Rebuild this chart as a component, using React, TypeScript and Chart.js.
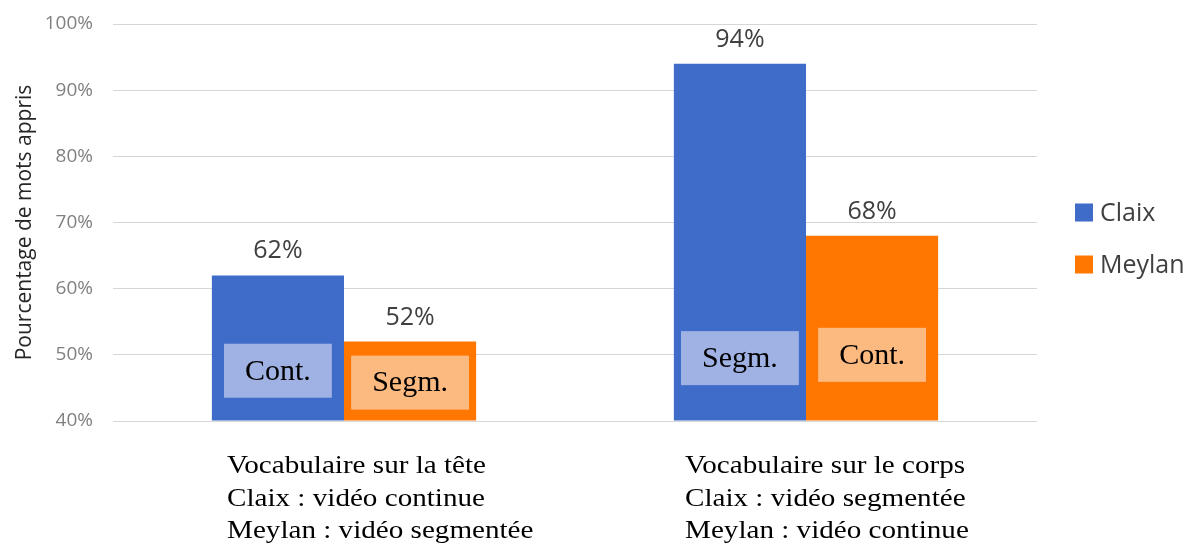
import { useEffect, useRef } from 'react';
import { Chart, registerables } from 'chart.js';

Chart.register(...registerables);

// ---- data ----
const categoryLines: string[][] = [
  ['Vocabulaire sur la tête', 'Claix : vidéo continue', 'Meylan : vidéo segmentée'],
  ['Vocabulaire sur le corps', 'Claix : vidéo segmentée', 'Meylan : vidéo continue'],
];
const seriesNames = ['Claix', 'Meylan'];
const claixValues = [62, 94];
const meylanValues = [52, 68];
const claixInsetLabels = ['Cont.', 'Segm.'];
const meylanInsetLabels = ['Segm.', 'Cont.'];
const yMin = 40;
const yMax = 100;
const yStep = 10;
const yTitle = 'Pourcentage de mots appris';

// ---- styling / layout ----
const seriesColors = ['#3F6BC9', '#FF7700'];
const insetFills = ['#9FB2E3', '#FDBA80'];
// vertical centre of each inset box, in axis units (per series, per category)
const insetCenters = [
  [47.6, 49.5],
  [45.8, 50.0],
];
const catLabelShift = [-117, -121];
const sansFont = '"Open Sans", "Liberation Sans", sans-serif';
const serifFont = '"Liberation Serif", "Times New Roman", serif';

const overlayPlugin = {
  id: 'overlayPlugin',
  afterDatasetsDraw(chart: any) {
    const ctx: CanvasRenderingContext2D = chart.ctx;
    const yScale = chart.scales.y;
    const xScale = chart.scales.x;
    const insetLabels = [claixInsetLabels, meylanInsetLabels];

    chart.data.datasets.forEach((ds: any, di: number) => {
      const meta = chart.getDatasetMeta(di);
      meta.data.forEach((bar: any, i: number) => {
        const { x, y: top } = bar.getProps(['x', 'y'], true);
        ctx.save();
        // value label
        ctx.font = `25px ${sansFont}`;
        ctx.fillStyle = '#404040';
        ctx.textAlign = 'center';
        ctx.textBaseline = 'alphabetic';
        ctx.fillText(`${ds.data[i]}%`, x, top - 17);
        // inset box
        const text = insetLabels[di][i];
        ctx.font = `30px ${serifFont}`;
        const tw = ctx.measureText(text).width;
        const bw = tw + 42;
        const bh = 54;
        const cy = yScale.getPixelForValue(insetCenters[di][i]);
        ctx.fillStyle = insetFills[di];
        ctx.fillRect(x - bw / 2, cy - bh / 2, bw, bh);
        ctx.fillStyle = '#000000';
        ctx.textBaseline = 'middle';
        ctx.fillText(text, x, cy + 1);
        ctx.restore();
      });
    });

    // category labels (multi-line, left aligned, slightly widened type)
    categoryLines.forEach((lines, i) => {
      const cx = xScale.getPixelForValue(i);
      const left = cx + catLabelShift[i];
      ctx.save();
      ctx.translate(left, 0);
      ctx.scale(1.12, 1);
      ctx.font = `26px ${serifFont}`;
      ctx.fillStyle = '#000000';
      ctx.textAlign = 'left';
      ctx.textBaseline = 'alphabetic';
      lines.forEach((line, li) => {
        ctx.fillText(line, 0, chart.chartArea.bottom + 52 + li * 32.5);
      });
      ctx.restore();
    });

    // legend
    ctx.save();
    const lx = chart.chartArea.right + 38;
    const midY = (chart.chartArea.top + chart.chartArea.bottom) / 2;
    seriesNames.forEach((name, si) => {
      const cy = midY - 10 + si * 52;
      ctx.fillStyle = seriesColors[si];
      ctx.fillRect(lx, cy - 9, 18, 18);
      ctx.font = `25px ${sansFont}`;
      ctx.fillStyle = '#404040';
      ctx.textAlign = 'left';
      ctx.textBaseline = 'middle';
      ctx.fillText(name, lx + 25, cy + 1);
    });
    ctx.restore();
  },
};

export default function App() {
  const canvasRef = useRef<HTMLCanvasElement | null>(null);

  useEffect(() => {
    if (!canvasRef.current) return;
    const chart = new Chart(canvasRef.current, {
      type: 'bar',
      data: {
        labels: categoryLines.map((l) => l[0]),
        datasets: [
          {
            label: seriesNames[0],
            data: claixValues,
            backgroundColor: seriesColors[0],
            categoryPercentage: 0.572,
            barPercentage: 1,
            base: yMin,
          },
          {
            label: seriesNames[1],
            data: meylanValues,
            backgroundColor: seriesColors[1],
            categoryPercentage: 0.572,
            barPercentage: 1,
            base: yMin,
          },
        ],
      },
      options: {
        responsive: false,
        animation: false,
        devicePixelRatio: 1,
        layout: { padding: { left: 12, top: 24, right: 159, bottom: 122 } },
        plugins: {
          legend: { display: false },
          tooltip: { enabled: false },
        },
        scales: {
          x: {
            display: false,
          },
          y: {
            min: yMin,
            max: yMax,
            ticks: {
              stepSize: yStep,
              callback: (v: any) => `${v}%`,
              color: '#808080',
              font: { family: sansFont, size: 19 },
              padding: 0,
            },
            grid: {
              color: '#d6d6d6',
              lineWidth: 1,
              drawTicks: true,
              tickLength: 20,
              tickColor: 'rgba(0,0,0,0)',
            },
            border: { display: false },
            title: {
              display: true,
              text: yTitle,
              color: '#262626',
              font: { family: sansFont, size: 21 },
              padding: 0,
            },
            afterFit: (s: any) => {
              s.width = 101;
            },
          },
        },
      },
      plugins: [overlayPlugin],
    });
    return () => chart.destroy();
  }, []);

  return (
    <div style={{ position: 'absolute', left: 0, top: 0, width: 1196, height: 543, background: '#fff' }}>
      <canvas ref={canvasRef} width={1196} height={543} />
    </div>
  );
}
